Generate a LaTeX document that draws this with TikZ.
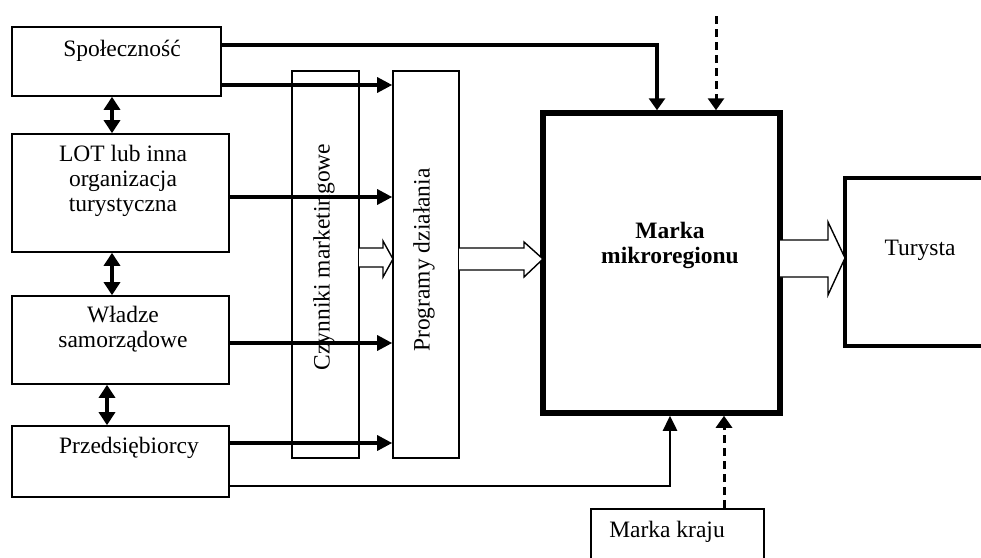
\documentclass[tikz,border=0pt]{standalone}
\usepackage{fontspec}
\setmainfont{Liberation Serif}
\usetikzlibrary{arrows.meta,calc}

\tikzset{
  box/.style={draw, line width=1.6pt, inner sep=0pt, rectangle},
  lbl/.style={inner sep=0pt, align=center, font=\fontsize{23.5}{25}\selectfont},
  conn/.style={line width=3.2pt, -{Triangle[length=15pt,width=15pt]}},
  thinconn/.style={line width=2.5pt, -{Triangle[length=15pt,width=14pt]}},
  twoway/.style={line width=3.2pt, {Triangle[length=13pt,width=16pt]}-{Triangle[length=13pt,width=16pt]}},
  dsh/.style={line width=3pt, dash pattern=on 8pt off 5pt, -{Triangle[length=12pt,width=16pt]}},
  hollow/.style={draw, line width=1.4pt, fill=white, line join=miter}
}

\begin{document}
\begin{tikzpicture}[x=1pt, y=-1pt]
\clip (0,0) rectangle (981,557);
\fill[white] (0,0) rectangle (981,557);

% actors on the left
\node[box, minimum width=209pt, minimum height=69pt]  (spol) at (116.5,61.5) {};
\node[box, minimum width=217pt, minimum height=118pt] (lot)  at (120.5,193) {};
\node[box, minimum width=217pt, minimum height=88pt]  (wla)  at (120.5,340) {};
\node[box, minimum width=217pt, minimum height=71pt]  (prz)  at (120.5,461.5) {};

\node[lbl] at (122,51) {Społeczność};
\node[lbl] at (123,181) {LOT lub inna\\organizacja\\turystyczna};
\node[lbl] at (123,329) {Władze\\samorządowe};
\node[lbl] at (129,448) {Przedsiębiorcy};

% vertical columns
\node[box, minimum width=67pt, minimum height=387pt] (czyn) at (325.5,264.5) {};
\node[box, minimum width=66pt, minimum height=387pt] (prog) at (426,264.5) {};
\node[lbl, rotate=90] at (324,257) {Czynniki marketingowe};
\node[lbl, rotate=90] at (424,260) {Programy działania};

% central brand box
\node[draw, line width=5.5pt, inner sep=0pt, minimum width=237pt, minimum height=300pt] (marka) at (661.5,263) {};
\node[lbl, font=\fontsize{23.5}{25}\selectfont\bfseries] at (670,245) {Marka\\mikroregionu};

% tourist and national brand
\node[draw, line width=3.6pt, inner sep=0pt, minimum width=160pt, minimum height=168pt] (tur) at (925,262) {};
\node[lbl] at (920,250) {Turysta};
\node[box, minimum width=173pt, minimum height=80pt] (kraj) at (677.5,549) {};
\node[lbl] at (667,532) {Marka kraju};

% two-way links between actors
\draw[twoway] (spol.south -| 112,0) -- (lot.north -| 112,0);
\draw[twoway] (lot.south -| 112,0) -- (wla.north -| 112,0);
\draw[twoway] (wla.south -| 107,0) -- (prz.north -| 107,0);

% actors feeding the action programmes
\draw[conn] (spol.east |- 0,85)  -- (prog.west |- 0,85);
\draw[conn] (lot.east |- 0,197)  -- (prog.west |- 0,197);
\draw[conn] (wla.east |- 0,343)  -- (prog.west |- 0,343);
\draw[conn] (prz.east |- 0,443)  -- (prog.west |- 0,443);

% direct links to the brand
\draw[line width=3.2pt, -{Triangle[length=12pt,width=16pt]}] (spol.east |- 0,45) -| (marka.north -| 657,0);
\draw[thinconn] (prz.east |- 0,486) -| (marka.south -| 670,0);

% outside influences (dashed)
\coordinate (ext) at (716,16);
\draw[dsh] (ext) -- (marka.north -| 716,0);
\draw[dsh] (kraj.north -| 724,0) -- (marka.south -| 724,0);

% hollow block arrows
\draw[hollow] (359,248) -- (383,248) -- (383,241) -- (393,259) -- (383,277) -- (383,267) -- (359,267);
\draw[hollow] (459,248) -- (524,248) -- (524,242) -- (543,259) -- (524,277) -- (524,270) -- (459,270);
\draw[hollow] (780,240) -- (828,240) -- (828,222) -- (845,258) -- (828,295) -- (828,277) -- (780,277);
\end{tikzpicture}
\end{document}
